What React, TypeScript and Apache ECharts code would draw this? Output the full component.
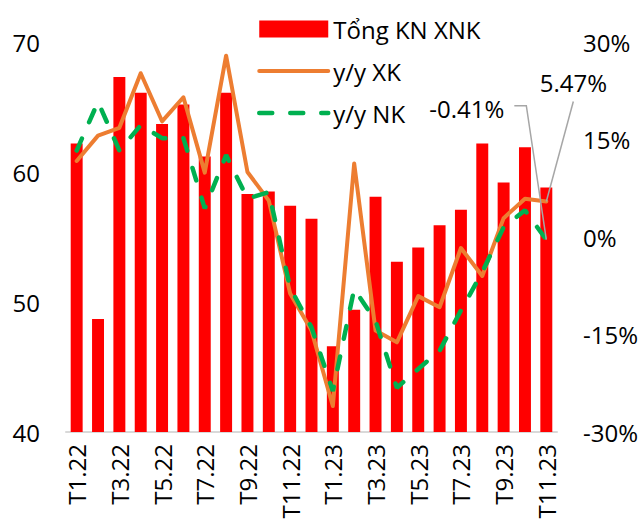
import React, { useEffect, useRef } from "react";
import * as echarts from "echarts";

const categories = [
  "T1.22", "T2.22", "T3.22", "T4.22", "T5.22", "T6.22", "T7.22", "T8.22", "T9.22", "T10.22", "T11.22", "T12.22",
  "T1.23", "T2.23", "T3.23", "T4.23", "T5.23", "T6.23", "T7.23", "T8.23", "T9.23", "T10.23", "T11.23",
];
const totalTrade = [
  62.2, 48.7, 67.3, 66.1, 63.7, 65.2, 61.2, 66.1, 58.3, 58.5, 57.4, 56.4,
  46.6, 49.4, 58.1, 53.1, 54.2, 55.9, 57.1, 62.2, 59.2, 61.9, 58.8,
];
const exportYoY = [
  11.7, 15.6, 16.8, 25.2, 17.8, 21.5, 9.9, 27.9, 10.0, 5.6, -8.7, -14.4,
  -26.0, 11.3, -14.4, -16.2, -9.1, -10.8, -1.7, -6.0, 2.9, 5.9, 5.47,
];
const importYoY = [
  13.3, 20.8, 13.3, 17.2, 15.2, 15.2, 4.4, 12.6, 5.9, 6.9, -7.8, -13.9,
  -23.7, -8.0, -12.9, -23.2, -20.3, -17.5, -11.3, -5.4, 1.5, 4.1, -0.41,
];
const seriesNames = ["Tổng KN XNK", "y/y XK", "y/y NK"];
const leftTicks = { min: 40, max: 70, interval: 10 };
const rightTicks = { min: -30, max: 30, interval: 15 };

const FONT = "Open Sans";

export default function App() {
  const ref = useRef<HTMLDivElement>(null);
  useEffect(() => {
    document.body.style.margin = "0";
    const chart = echarts.init(ref.current!, null, { renderer: "svg" });
    const xkLine = { color: "#ED7D31", width: 4, cap: "round", join: "round" };
    const nkLine = { color: "#00B050", width: 4.5, type: [13, 18], cap: "round" };
    const option: any = {
      animation: false,
      textStyle: { fontFamily: FONT },
      grid: { left: 66, right: 83, top: 42, bottom: 95, containLabel: false },
      legend: {
        orient: "vertical",
        left: 252,
        top: 12,
        itemWidth: 69,
        itemHeight: 17,
        itemGap: 18,
        textStyle: { fontSize: 24, color: "#000", fontFamily: FONT, lineHeight: 24 },
        data: [
          { name: seriesNames[0], icon: "rect" },
          { name: seriesNames[1], itemStyle: { opacity: 0 }, lineStyle: { ...xkLine } },
          { name: seriesNames[2], itemStyle: { opacity: 0 }, lineStyle: { ...nkLine } },
        ],
      },
      xAxis: {
        type: "category",
        data: categories,
        axisTick: { show: false },
        axisLine: { onZero: false, lineStyle: { color: "#D9D9D9", width: 2 } },
        axisLabel: {
          interval: 1,
          rotate: 90,
          fontSize: 24,
          color: "#000",
          fontFamily: FONT,
          margin: 12,
        },
      },
      yAxis: [
        {
          type: "value",
          ...leftTicks,
          splitLine: { show: false },
          axisLine: { show: false },
          axisTick: { show: false },
          axisLabel: { fontSize: 24, color: "#000", fontFamily: FONT, margin: 26 },
        },
        {
          type: "value",
          ...rightTicks,
          splitLine: { show: false },
          axisLine: { show: false },
          axisTick: { show: false },
          axisLabel: { fontSize: 24, color: "#000", fontFamily: FONT, margin: 26, formatter: "{value}%" },
        },
      ],
      series: [
        {
          name: seriesNames[0],
          type: "bar",
          yAxisIndex: 0,
          data: totalTrade,
          barWidth: "56%",
          itemStyle: { color: "#FF0000" },
        },
        {
          name: seriesNames[1],
          type: "line",
          yAxisIndex: 1,
          data: exportYoY,
          symbol: "none",
          color: "#ED7D31",
          lineStyle: xkLine,
        },
        {
          name: seriesNames[2],
          type: "line",
          yAxisIndex: 1,
          data: importYoY,
          symbol: "none",
          color: "#00B050",
          lineStyle: nkLine,
        },
      ],
    };
    chart.setOption(option);

    const last = categories.length - 1;
    const pNK = chart.convertToPixel({ seriesIndex: 2 }, [last, importYoY[last]]) as number[];
    const pXK = chart.convertToPixel({ seriesIndex: 1 }, [last, exportYoY[last]]) as number[];
    const leader = { stroke: "#A6A6A6", lineWidth: 1.5, fill: null };
    chart.setOption({
      graphic: [
        {
          type: "polyline",
          shape: {
            points: [
              [pNK[0], pNK[1]],
              [pNK[0] - 20, pNK[1] - 134],
              [pNK[0] - 32, pNK[1] - 134],
            ],
          },
          style: leader,
          z: 100,
        },
        {
          type: "text",
          x: pNK[0] - 42,
          y: pNK[1] - 131,
          style: {
            text: importYoY[last].toFixed(2) + "%",
            fontSize: 24,
            fontFamily: FONT,
            fill: "#000",
            align: "right",
            verticalAlign: "middle",
          },
          z: 100,
        },
        {
          type: "line",
          shape: { x1: pXK[0], y1: pXK[1], x2: pXK[0] + 27, y2: pXK[1] - 100 },
          style: leader,
          z: 100,
        },
        {
          type: "text",
          x: pXK[0] + 27,
          y: pXK[1] - 119,
          style: {
            text: exportYoY[last].toFixed(2) + "%",
            fontSize: 24,
            fontFamily: FONT,
            fill: "#000",
            align: "center",
            verticalAlign: "middle",
          },
          z: 100,
        },
      ],
    });
    return () => chart.dispose();
  }, []);
  return <div ref={ref} style={{ width: 641, height: 527 }} />;
}
